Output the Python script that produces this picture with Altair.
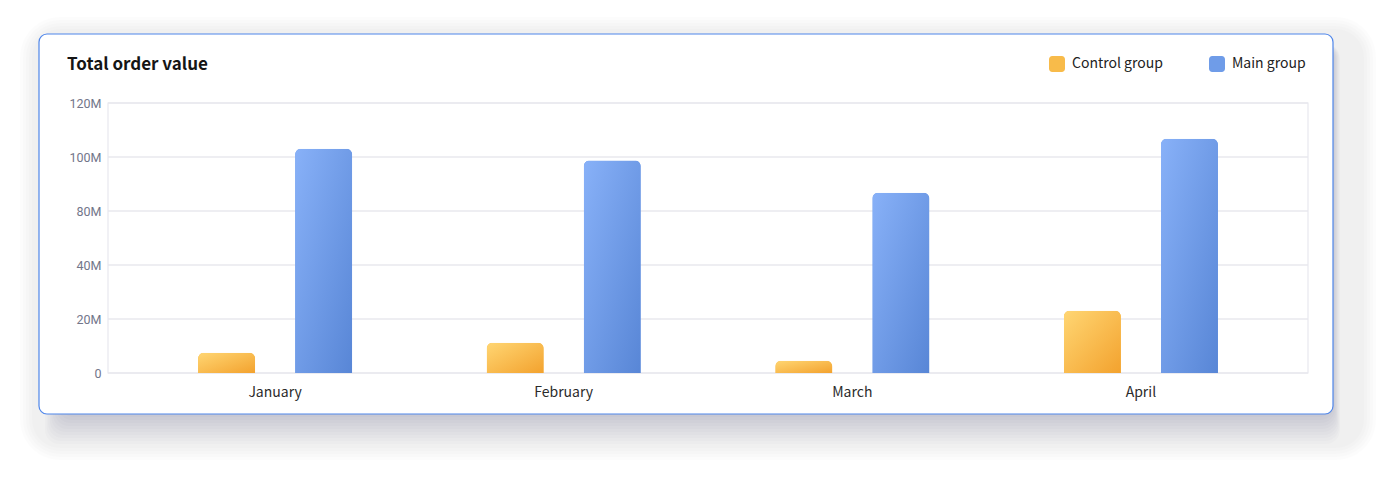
import altair as alt
import pandas as pd

# ---- data (values in millions) ----
months = ["January", "February", "March", "April"]
series_names = ["Control group", "Main group"]
control_values = [9.0, 13.5, 5.5, 27.7]
main_values = [99.7, 94.4, 80.1, 104.1]
tick_values = [0, 24, 48, 72, 96, 120]
tick_labels = ["0", "20M", "40M", "80M", "100M", "120M"]

rows = []
for m, c, v in zip(months, control_values, main_values):
    rows.append({"month": m, "series": series_names[0], "value": c})
    rows.append({"month": m, "series": series_names[1], "value": v})
df = pd.DataFrame(rows)
ticks_df = pd.DataFrame({"value": tick_values})
one = pd.DataFrame({"k": [0]})

# ---- styling ----
W, H = 1200, 270
LATIN = "Noto Sans CJK SC"
flat_colors = ["#f8bb4a", "#6f9ce8"]
grad_control = alt.LinearGradient(
    gradient="linear", x1=0, y1=0, x2=1, y2=1,
    stops=[alt.GradientStop(color="#ffd673", offset=0),
           alt.GradientStop(color="#f3a22e", offset=1)])
grad_main = alt.LinearGradient(
    gradient="linear", x1=0, y1=0, x2=1, y2=1,
    stops=[alt.GradientStop(color="#88b1f8", offset=0),
           alt.GradientStop(color="#5886d6", offset=1)])
rounded_square = ("M-1,-0.6 A0.4,0.4 0 0 1 -0.6,-1 L0.6,-1 A0.4,0.4 0 0 1 1,-0.6 "
                  "L1,0.6 A0.4,0.4 0 0 1 0.6,1 L-0.6,1 A0.4,0.4 0 0 1 -1,0.6 Z")

# card rectangle in plot coordinates
CX0, CY0, CX1, CY1 = -69, -69, 1225, 311

label_expr = "[" + ",".join("'%s'" % t for t in tick_labels) + "][round(datum.value / 24)]"
y_scale = alt.Scale(domain=[0, 120], nice=False)
y_axis = alt.Axis(title=None, values=tick_values, labelExpr=label_expr,
                  ticks=False, domain=False, grid=False,
                  labelFont="Roboto", labelFontSize=12.5,
                  labelColor="#72768a", labelPadding=7, zindex=1)

x_enc = alt.X("month:N", sort=months,
              scale=alt.Scale(paddingInner=0.466, paddingOuter=0.312),
              axis=alt.Axis(title=None, ticks=False, domain=False, grid=False,
                            labelAngle=0, labelFont=LATIN, labelFontSize=14,
                            labelColor="#2b2b2b", labelPadding=12, zindex=1))
y_enc = alt.Y("value:Q", scale=y_scale, axis=y_axis)
xoff_enc = alt.XOffset("series:N", sort=series_names,
                       scale=alt.Scale(paddingInner=0.412, paddingOuter=0))

layers = []
# broad pale halo behind the card
for i in range(5):
    s = i * 3
    layers.append(
        alt.Chart(one).mark_rect(color="#20202a", opacity=0.011,
                                 cornerRadius=40 - s).encode(
            x=alt.value(CX0 - 19 + s), x2=alt.value(CX1 + 43 - s),
            y=alt.value(CY0 - 17 + s), y2=alt.value(CY1 + 46 - s)))
# darker shadow falling just below and right of the card
for i in range(1, 11):
    layers.append(
        alt.Chart(one).mark_rect(color="#1a1a30", opacity=0.016,
                                 cornerRadius=14).encode(
            x=alt.value(CX0 + 22 - 1.6 * i), x2=alt.value(CX1 + 0.7 * i),
            y=alt.value(CY0 + 10), y2=alt.value(CY1 + 3 * i)))

card = alt.Chart(one).mark_rect(fill="#ffffff", stroke="#4f86ea", strokeWidth=1.2,
                                cornerRadius=8).encode(
    x=alt.value(CX0), x2=alt.value(CX1), y=alt.value(CY0), y2=alt.value(CY1))

title = alt.Chart(one).mark_text(text="Total order value", font=LATIN, fontSize=17,
                                 fontWeight="bold", color="#151515", align="left",
                                 baseline="alphabetic").encode(
    x=alt.value(-41), y=alt.value(-33))

grid = alt.Chart(ticks_df).mark_rule(color="#e8e8ee", strokeWidth=1.5).encode(
    y=y_enc, x=alt.value(0), x2=alt.value(W))

frame = alt.Chart(one).mark_rect(fill=None, stroke="#e8e8ee", strokeWidth=1.2).encode(
    x=alt.value(0), x2=alt.value(W), y=alt.value(0), y2=alt.value(H))

flat_bars = alt.Chart(df).mark_bar(cornerRadiusTopLeft=6, cornerRadiusTopRight=6).encode(
    x=x_enc, xOffset=xoff_enc, y=y_enc,
    color=alt.Color("series:N",
                    scale=alt.Scale(domain=series_names, range=flat_colors),
                    legend=alt.Legend(title=None, orient="none", legendX=941, legendY=-47,
                                      direction="horizontal", symbolType=rounded_square,
                                      symbolSize=256, symbolStrokeWidth=0,
                                      labelFont=LATIN, labelFontSize=14,
                                      labelColor="#222222", labelOffset=7,
                                      columnPadding=46)))

def gradient_bars(name, grad):
    return alt.Chart(df).transform_filter(alt.datum.series == name).mark_bar(
        color=grad, cornerRadiusTopLeft=6, cornerRadiusTopRight=6).encode(
        x=x_enc, xOffset=xoff_enc, y=y_enc)

chart = alt.layer(
    *layers, card, title, grid, frame, flat_bars,
    gradient_bars(series_names[0], grad_control),
    gradient_bars(series_names[1], grad_main),
).properties(
    width=W, height=H,
    padding={"left": 108, "top": 103, "right": 87, "bottom": 108},
    autosize=alt.AutoSizeParams(type="none"),
    background="#ffffff",
).configure_view(stroke=None)

chart.save("out.html", embed_options={"renderer": "svg", "actions": False})
